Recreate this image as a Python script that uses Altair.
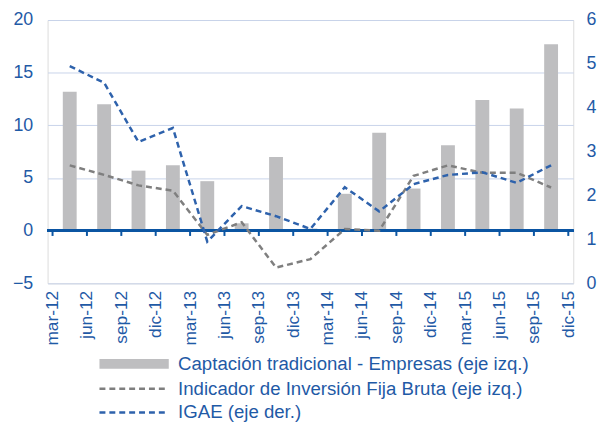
import altair as alt
import pandas as pd

# ---- data ----
labels = ["mar-12", "jun-12", "sep-12", "dic-12", "mar-13", "jun-13", "sep-13", "dic-13",
          "mar-14", "jun-14", "sep-14", "dic-14", "mar-15", "jun-15", "sep-15", "dic-15"]
captacion = [13.2, 12.0, 5.7, 6.2, 4.7, 0.7, 7.0, 0.2, 3.5, 9.3, 4.0, 8.1, 12.4, 11.6, 17.7]
inversion = [6.2, 5.3, 4.3, 3.8, -0.4, 0.8, -3.5, -2.7, 0.15, 0.0, 5.2, 6.2, 5.5, 5.5, 4.1]
igae = [4.95, 4.57, 3.22, 3.54, 0.95, 1.76, 1.53, 1.24, 2.19, 1.64, 2.26, 2.47, 2.53, 2.29, 2.69]

s_bar = "Captación tradicional - Empresas (eje izq.)"
s_inv = "Indicador de Inversión Fija Bruta (eje izq.)"
s_igae = "IGAE (eje der.)"

pos = [i + 0.5 for i in range(len(captacion))]
df_bar = pd.DataFrame({"pos": pos, "valor": captacion, "serie": s_bar})
df_lines = pd.concat([
    pd.DataFrame({"pos": pos, "valor": inversion, "serie": s_inv}),
    pd.DataFrame({"pos": pos, "valor": igae, "serie": s_igae}),
])
df_ticks = pd.DataFrame({"idx": list(range(len(labels)))})

W, H = 531, 266
TXT = "#1f5aa6"
FONT = "Liberation Sans"
AXIS_BLUE = "#0b55a2"
GRID = "#c8d3ea"

label_expr = "[" + ",".join("'%s'" % l for l in labels) + "][datum.value]"
xscale = alt.Scale(domain=[0, len(labels) - 1], nice=False, zero=False)
x_axis = alt.Axis(values=list(range(len(labels))), labelExpr=label_expr, labelAngle=-90,
                  labelFontSize=17.5, labelColor=TXT, labelFont=FONT, labelPadding=7,
                  ticks=False, domain=False, grid=False, title=None,
                  labelFlush=False, labelOverlap=False)
X = alt.X("pos:Q", scale=xscale, axis=x_axis)

yL = alt.Scale(domain=[-5, 20], nice=False)
yR = alt.Scale(domain=[0, 6], nice=False)
yL_axis = alt.Axis(values=[-5, 0, 5, 10, 15, 20], grid=True, gridColor=GRID, gridWidth=1,
                   domain=False, ticks=False, labelFontSize=18, labelColor=TXT,
                   labelFont=FONT, labelPadding=15, title=None)
yR_axis = alt.Axis(orient="right", values=[0, 1, 2, 3, 4, 5, 6], grid=False, domain=False,
                   ticks=False, labelFontSize=18, labelColor=TXT, labelFont=FONT,
                   labelPadding=13, title=None)

LEG_FS = 18.8
fill_legend = alt.Legend(orient="none", legendX=108, legendY=338, title=None,
                         symbolType="M-13,-1H1V1H-13Z", symbolSize=100, symbolStrokeWidth=0,
                         symbolOpacity=1, labelFontSize=LEG_FS, labelColor=TXT, labelFont=FONT,
                         labelOffset=5, labelLimit=500)
stroke_legend = alt.Legend(orient="none", legendX=108, legendY=363, title=None,
                           symbolType="M-13,0H1", symbolSize=100, symbolStrokeWidth=2.5,
                           symbolDash=[6, 4], labelFontSize=LEG_FS, labelColor=TXT,
                           labelFont=FONT, labelOffset=5, rowPadding=4, labelLimit=500)

bars = alt.Chart(df_bar).mark_bar(size=14).encode(
    x=X,
    y=alt.Y("valor:Q", scale=yL, axis=yL_axis),
    fill=alt.Fill("serie:N", scale=alt.Scale(domain=[s_bar], range=["#bebec0"]),
                  legend=fill_legend),
)

zero_rule = alt.Chart(df_ticks).mark_rule(color=AXIS_BLUE, strokeWidth=2.5).encode(
    y=alt.datum(0)
)
tick_marks = alt.Chart(df_ticks).mark_rule(color=AXIS_BLUE, strokeWidth=2).encode(
    x=alt.X("idx:Q", scale=xscale, axis=x_axis),
    y=alt.datum(0),
    y2=alt.datum(-0.5),
)

stroke_scale = alt.Scale(domain=[s_inv, s_igae], range=["#7f7f7f", "#2e62ac"])

gray_line = alt.Chart(df_lines).transform_filter(
    alt.FieldEqualPredicate(field="serie", equal=s_inv)
).mark_line(strokeDash=[6, 4], strokeWidth=2.5).encode(
    x=X,
    y=alt.Y("valor:Q", scale=yL, axis=yL_axis),
    stroke=alt.Stroke("serie:N", scale=stroke_scale, legend=stroke_legend),
)

blue_line = alt.Chart(df_lines).transform_filter(
    alt.FieldEqualPredicate(field="serie", equal=s_igae)
).mark_line(strokeDash=[6, 4], strokeWidth=2.5).encode(
    x=X,
    y=alt.Y("valor:Q", scale=yR, axis=yR_axis),
    stroke=alt.Stroke("serie:N", scale=stroke_scale, legend=stroke_legend),
)

left = alt.layer(bars, zero_rule, tick_marks, gray_line)
chart = alt.layer(left, blue_line).resolve_scale(y="independent").properties(
    width=W, height=H,
    autosize=alt.AutoSizeParams(type="none"),
    padding={"left": 40, "top": 10, "right": 24, "bottom": 145},
).configure_view(stroke=None).configure(background="white")

chart.save("out.html", embed_options={"renderer": "svg", "actions": False})
